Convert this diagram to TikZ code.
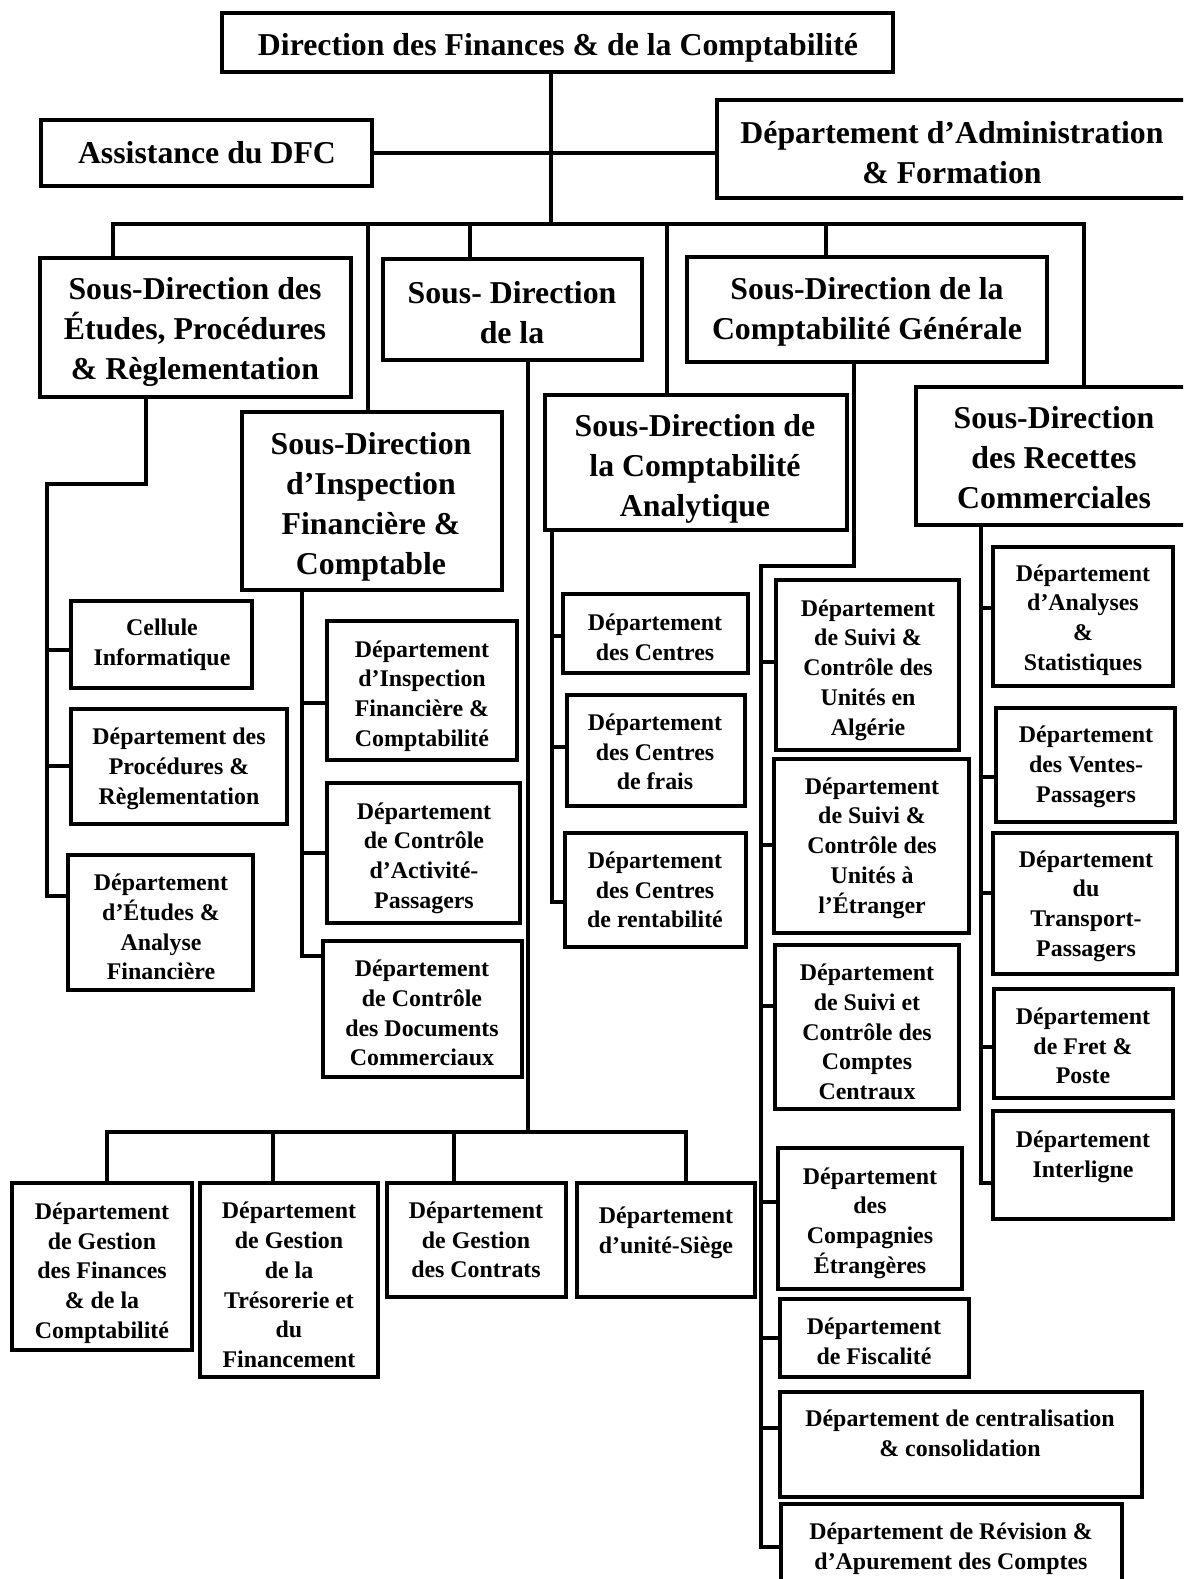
\documentclass[tikz,border=0pt]{standalone}
\usepackage{fontspec}
\setmainfont{Liberation Serif}
\usetikzlibrary{fit}

\tikzset{
  orgframe/.style={draw, line width=3.6pt, inner sep=0pt, outer sep=0pt},
  link/.style={draw, line width=3.6pt, line cap=rect},
  bigtxt/.style={font=\fontsize{31.8}{40}\selectfont\bfseries, align=center, inner sep=0pt},
  depttxt/.style={font=\fontsize{23.9}{29.7}\selectfont\bfseries, align=center, inner sep=0pt},
}

% #1 name, #2-#5 corners (x1,y1,x2,y2), #6 text style, #7-#8 text centre, #9 text
\newcommand\orgbox[9]{%
  \coordinate (#1-nw) at (#2,#3);
  \coordinate (#1-se) at (#4,#5);
  \node[orgframe, fit=(#1-nw)(#1-se)] (#1) {};
  \node[#6] (#1-t) at (#7,#8) {#9};
}

\begin{document}
\begin{tikzpicture}[x=1pt,y=-1pt]
\useasboundingbox (0,0) rectangle (1183,1579);
\fill[white] (0,0) rectangle (1183,1579);
\clip (0,0) rectangle (1183,1579);

% ---- top level ----
\orgbox{top}{222}{13}{893}{72}{bigtxt}{558}{48}{Direction des Finances \& de la Comptabilité}
\orgbox{assist}{41}{120}{372}{186}{bigtxt}{207}{153}{Assistance du DFC}
\orgbox{admin}{717}{100}{1200}{198}{bigtxt}{952}{153}{Département d’Administration\\\& Formation}

% ---- sub-directions ----
\orgbox{sdEtudes}{40}{258}{351}{397}{bigtxt}{195}{332}{Sous-Direction des\\Études, Procédures\\\& Règlementation}
\orgbox{sdDeLa}{383}{259}{642}{360}{bigtxt}{512}{313}{Sous- Direction\\de la}
\orgbox{sdGen}{687}{257}{1047}{362}{bigtxt}{867}{312}{Sous-Direction de la\\Comptabilité Générale}
\orgbox{sdInsp}{242}{412}{502}{590}{bigtxt}{371}{507}{Sous-Direction\\d’Inspection\\Financière \&\\Comptable}
\orgbox{sdAna}{545}{395}{847}{530}{bigtxt}{695}{469}{Sous-Direction de\\la Comptabilité\\Analytique}
\orgbox{sdRec}{916}{387}{1200}{525}{bigtxt}{1054}{458}{Sous-Direction\\des Recettes\\Commerciales}

% ---- under Études, Procédures & Règlementation ----
\orgbox{cellule}{71}{601}{252}{688}{depttxt}{162}{645}{Cellule\\Informatique}
\orgbox{dProc}{71}{709}{287}{824}{depttxt}{179}{769}{Département des\\Procédures \&\\Règlementation}
\orgbox{dEtu}{68}{855}{253}{990}{depttxt}{161}{927}{Département\\d’Études \&\\Analyse\\Financière}

% ---- under Inspection ----
\orgbox{dInsp}{327}{621}{517}{760}{depttxt}{422}{696}{Département\\d’Inspection\\Financière \&\\Comptabilité}
\orgbox{dAct}{327}{783}{520}{923}{depttxt}{424}{858}{Département\\de Contrôle\\d’Activité-\\Passagers}
\orgbox{dDoc}{323}{941}{522}{1077}{depttxt}{422}{1013}{Département\\de Contrôle\\des Documents\\Commerciaux}

% ---- under Comptabilité Analytique ----
\orgbox{dCen}{563}{594}{748}{673}{depttxt}{655}{637}{Département\\des Centres}
\orgbox{dFrais}{567}{695}{745}{806}{depttxt}{655}{752}{Département\\des Centres\\de frais}
\orgbox{dRent}{565}{833}{746}{947}{depttxt}{655}{890}{Département\\des Centres\\de rentabilité}

% ---- under Comptabilité Générale ----
\orgbox{dAlg}{776}{580}{959}{750}{depttxt}{868}{670}{Département\\de Suivi \&\\Contrôle des\\Unités en\\Algérie}
\orgbox{dEtr}{774}{759}{969}{933}{depttxt}{872}{848}{Département\\de Suivi \&\\Contrôle des\\Unités à\\l’Étranger}
\orgbox{dCC}{775}{945}{959}{1109}{depttxt}{867}{1032}{Département\\de Suivi et\\Contrôle des\\Comptes\\Centraux}
\orgbox{dComp}{778}{1148}{962}{1289}{depttxt}{870}{1223}{Département\\des\\Compagnies\\Étrangères}
\orgbox{dFisc}{780}{1299}{969}{1377}{depttxt}{874}{1341}{Département\\de Fiscalité}
\orgbox{dCentral}{780}{1392}{1142}{1497}{depttxt}{960}{1433}{Département de centralisation\\\& consolidation}
\orgbox{dRev}{781}{1504}{1122}{1620}{depttxt}{951}{1549}{Département de Révision \&\\d’Apurement des Comptes}

% ---- under Recettes Commerciales ----
\orgbox{dAnal}{993}{547}{1173}{686}{depttxt}{1083}{620}{Département\\d’Analyses\\\&\\Statistiques}
\orgbox{dVent}{996}{708}{1175}{822}{depttxt}{1086}{767}{Département\\des Ventes-\\Passagers}
\orgbox{dTrans}{993}{833}{1177}{974}{depttxt}{1086}{906}{Département\\du\\Transport-\\Passagers}
\orgbox{dFret}{994}{989}{1173}{1098}{depttxt}{1083}{1046}{Département\\de Fret \&\\Poste}
\orgbox{dInter}{993}{1111}{1173}{1219}{depttxt}{1083}{1157}{Département\\Interligne}

% ---- under "Sous- Direction de la" ----
\orgbox{gFin}{12}{1183}{192}{1350}{depttxt}{102}{1273}{Département\\de Gestion\\des Finances\\\& de la\\Comptabilité}
\orgbox{gTres}{200}{1183}{378}{1377}{depttxt}{289}{1285}{Département\\de Gestion\\de la\\Trésorerie et\\du\\Financement}
\orgbox{gContr}{387}{1183}{566}{1297}{depttxt}{476}{1240}{Département\\de Gestion\\des Contrats}
\orgbox{gSiege}{577}{1183}{755}{1297}{depttxt}{666}{1233}{Département\\d’unité-Siège}

% ---- connectors: top level ----
\coordinate (t0) at (551,224);
\coordinate (b1) at (113,224);
\coordinate (b2) at (368,224);
\coordinate (b3) at (470,224);
\coordinate (b4) at (667,224);
\coordinate (b5) at (826,224);
\coordinate (b6) at (1084,224);
\draw[link] (top.south -| t0) -- (t0);
\draw[link] (assist.east) -- (assist.east -| admin.west);
\draw[link] (b1 |- sdEtudes.north) -- (b1) -- (b6) -- (b6 |- sdRec.north);
\draw[link] (b2) -- (b2 |- sdInsp.north);
\draw[link] (b3) -- (b3 |- sdDeLa.north);
\draw[link] (b4) -- (b4 |- sdAna.north);
\draw[link] (b5) -- (b5 |- sdGen.north);

% ---- Études spine ----
\coordinate (e1) at (146,484);
\coordinate (e2) at (47,484);
\coordinate (e3) at (47,896);
\coordinate (eb1) at (47,650);
\coordinate (eb2) at (47,766);
\draw[link] (sdEtudes.south -| e1) -- (e1) -- (e2) -- (e3) -- (e3 -| dEtu.west);
\draw[link] (eb1) -- (eb1 -| cellule.west);
\draw[link] (eb2) -- (eb2 -| dProc.west);

% ---- Inspection spine ----
\coordinate (i0) at (302,956);
\coordinate (ib1) at (302,703);
\coordinate (ib2) at (302,853);
\draw[link] (sdInsp.south -| i0) -- (i0) -- (i0 -| dDoc.west);
\draw[link] (ib1) -- (ib1 -| dInsp.west);
\draw[link] (ib2) -- (ib2 -| dAct.west);

% ---- "de la" spine and bottom row ----
\coordinate (l0) at (528,1132);
\coordinate (lb1) at (107,1132);
\coordinate (lb2) at (273,1132);
\coordinate (lb3) at (454,1132);
\coordinate (lb4) at (686,1132);
\draw[link] (sdDeLa.south -| l0) -- (l0);
\draw[link] (lb1 |- gFin.north) -- (lb1) -- (lb4) -- (lb4 |- gSiege.north);
\draw[link] (lb2) -- (lb2 |- gTres.north);
\draw[link] (lb3) -- (lb3 |- gContr.north);

% ---- Analytique spine ----
\coordinate (a0) at (552,902);
\coordinate (ab1) at (552,636);
\coordinate (ab2) at (552,747);
\draw[link] (sdAna.south -| a0) -- (a0) -- (a0 -| dRent.west);
\draw[link] (ab1) -- (ab1 -| dCen.west);
\draw[link] (ab2) -- (ab2 -| dFrais.west);

% ---- Générale spine ----
\coordinate (g1) at (854,566);
\coordinate (g2) at (761,566);
\coordinate (g3) at (761,1547);
\coordinate (gb1) at (761,662);
\coordinate (gb2) at (761,845);
\coordinate (gb3) at (761,1006);
\coordinate (gb4) at (761,1202);
\coordinate (gb5) at (761,1338);
\coordinate (gb6) at (761,1428);
\draw[link] (sdGen.south -| g1) -- (g1) -- (g2) -- (g3) -- (g3 -| dRev.west);
\draw[link] (gb1) -- (gb1 -| dAlg.west);
\draw[link] (gb2) -- (gb2 -| dEtr.west);
\draw[link] (gb3) -- (gb3 -| dCC.west);
\draw[link] (gb4) -- (gb4 -| dComp.west);
\draw[link] (gb5) -- (gb5 -| dFisc.west);
\draw[link] (gb6) -- (gb6 -| dCentral.west);

% ---- Recettes spine ----
\coordinate (r0) at (981,1183);
\coordinate (rb1) at (981,608);
\coordinate (rb2) at (981,777);
\coordinate (rb3) at (981,893);
\coordinate (rb4) at (981,1047);
\draw[link] (sdRec.south -| r0) -- (r0) -- (r0 -| dInter.west);
\draw[link] (rb1) -- (rb1 -| dAnal.west);
\draw[link] (rb2) -- (rb2 -| dVent.west);
\draw[link] (rb3) -- (rb3 -| dTrans.west);
\draw[link] (rb4) -- (rb4 -| dFret.west);
\end{tikzpicture}
\end{document}
